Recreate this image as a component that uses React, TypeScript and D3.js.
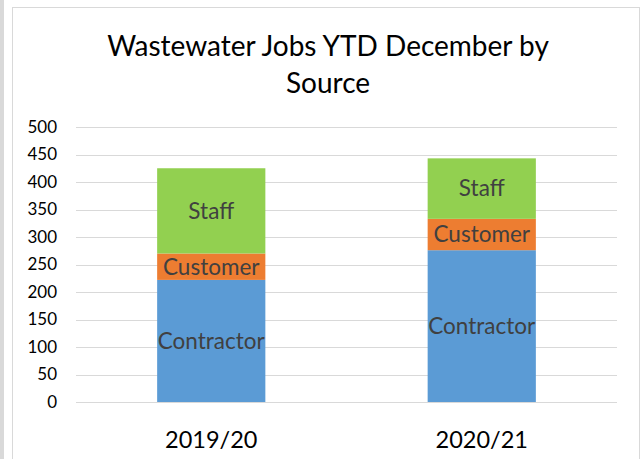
import React from "react";
import * as d3 from "d3";

const periods = ["2019/20", "2020/21"];
const seriesNames = ["Contractor", "Customer", "Staff"];
const contractor = [222, 276];
const customer = [48, 57];
const staff = [155, 110];
const yTicks = [0, 50, 100, 150, 200, 250, 300, 350, 400, 450, 500];
const colors = ["#5B9BD5", "#ED7D31", "#92D050"];

const width = 641;
const height = 459;
const font = "Lato, 'Open Sans', sans-serif";

export default function App() {
  const margin = { top: 127, right: 24, bottom: 57, left: 76 };

  const x = d3
    .scaleBand()
    .domain(periods)
    .range([margin.left, width - margin.right])
    .paddingInner(0.6)
    .paddingOuter(0.3);

  const y = d3
    .scaleLinear()
    .domain([0, 500])
    .range([height - margin.bottom, margin.top]);

  const rows = periods.map((p, i) => ({
    period: p,
    Contractor: contractor[i],
    Customer: customer[i],
    Staff: staff[i],
  }));
  const stacked = d3.stack<any>().keys(seriesNames)(rows);

  return (
    <div style={{ position: "fixed", left: 0, top: 0 }}>
      <svg width={width} height={height} style={{ display: "block" }}>
        <rect x={0} y={0} width={width} height={height} fill="#fff" />
        <rect x={0} y={0} width={4} height={height} fill="#d9d9d9" />
        <rect
          x={12.5}
          y={7.5}
          width={627}
          height={470}
          fill="#fff"
          stroke="#d9d9d9"
          strokeWidth={1}
        />

        {/* title */}
        <text
          x={328}
          y={56}
          textAnchor="middle"
          fontFamily={font}
          fontSize={28}
          fill="#000"
        >
          Wastewater Jobs YTD December by
        </text>
        <text
          x={328}
          y={93}
          textAnchor="middle"
          fontFamily={font}
          fontSize={28}
          fill="#000"
        >
          Source
        </text>

        {/* gridlines + y labels */}
        {yTicks.map((t) => (
          <g key={t}>
            <line
              x1={margin.left}
              x2={width - margin.right}
              y1={Math.round(y(t)) + 0.5}
              y2={Math.round(y(t)) + 0.5}
              stroke="#d9d9d9"
              strokeWidth={1.2}
            />
            <text
              x={57}
              y={y(t)}
              dy="0.35em"
              textAnchor="end"
              fontFamily={font}
              fontSize={17}
              fill="#000"
            >
              {t}
            </text>
          </g>
        ))}

        {/* bars */}
        {stacked.map((layer, si) => (
          <g key={layer.key}>
            {layer.map((d, i) => (
              <g key={i}>
                <rect
                  x={x(periods[i])}
                  y={y(d[1])}
                  width={x.bandwidth()}
                  height={y(d[0]) - y(d[1])}
                  fill={colors[si]}
                />
                <text
                  x={(x(periods[i]) ?? 0) + x.bandwidth() / 2}
                  y={(y(d[0]) + y(d[1])) / 2}
                  dy="0.35em"
                  textAnchor="middle"
                  fontFamily={font}
                  fontSize={22.5}
                  fill="#404040"
                >
                  {layer.key}
                </text>
              </g>
            ))}
          </g>
        ))}

        {/* x labels */}
        {periods.map((p) => (
          <text
            key={p}
            x={(x(p) ?? 0) + x.bandwidth() / 2}
            y={440}
            dy="0.35em"
            textAnchor="middle"
            fontFamily={font}
            fontSize={23.5}
            fill="#000"
          >
            {p}
          </text>
        ))}
      </svg>
    </div>
  );
}
